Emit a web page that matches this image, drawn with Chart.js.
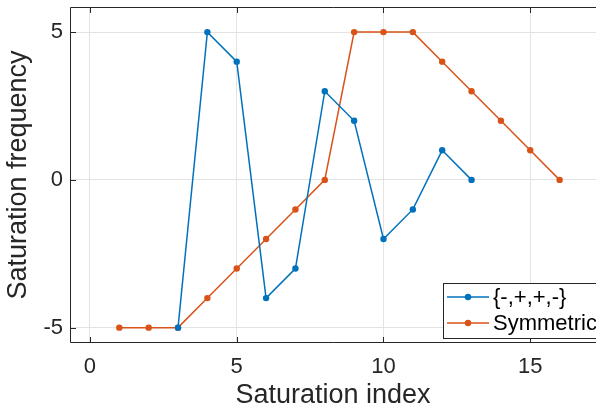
<!DOCTYPE html>
<html>
<head>
<meta charset="utf-8">
<script src="https://cdn.jsdelivr.net/npm/chart.js@4/dist/chart.umd.min.js"></script>
<style>
  body { margin: 0; background: #fff; overflow: hidden; }
</style>
</head>
<body>
<canvas id="myChart" width="596" height="412"></canvas>
<script>
// datos
const xBlue = [3, 4, 5, 6, 7, 8, 9, 10, 11, 12, 13];
const yBlue = [-5, 5, 4, -4, -3, 3, 2, -2, -1, 1, 0];
const xOrange = [1, 2, 3, 4, 5, 6, 7, 8, 9, 10, 11, 12, 13, 14, 15, 16];
const yOrange = [-5, -5, -5, -4, -3, -2, -1, 0, 5, 5, 5, 4, 3, 2, 1, 0];
const seriesNames = ["{-,+,+,-}", "Symmetric"];
const xTicks = [0, 5, 10, 15];
const yTicks = [-5, 0, 5];

const blue = "#0072BD";
const orange = "#D95319";
const axisColor = "#262626";
const fontFam = "'Liberation Sans', Arial, Helvetica, sans-serif";

function toPoints(xs, ys) {
  return xs.map((x, i) => ({ x: x, y: ys[i] }));
}

// caja, ticks hacia adentro y leyenda estilo matlab
const boxPlugin = {
  id: "boxPlugin",
  afterDatasetsDraw(chart) {
    const ctx = chart.ctx;
    const a = chart.chartArea;
    const xs = chart.scales.x;
    const ys = chart.scales.y;
    ctx.save();
    ctx.strokeStyle = axisColor;
    ctx.lineWidth = 1;
    ctx.beginPath();
    ctx.moveTo(a.right + 5, a.top + 0.5);
    ctx.lineTo(a.left + 0.5, a.top + 0.5);
    ctx.lineTo(a.left + 0.5, a.bottom - 0.5);
    ctx.lineTo(a.right + 5, a.bottom - 0.5);
    xTicks.forEach(v => {
      const px = Math.round(xs.getPixelForValue(v)) + 0.5;
      ctx.moveTo(px, a.bottom);
      ctx.lineTo(px, a.bottom - 6);
      ctx.moveTo(px, a.top);
      ctx.lineTo(px, a.top + 6);
    });
    yTicks.forEach(v => {
      const py = Math.round(ys.getPixelForValue(v)) + 0.5;
      ctx.moveTo(a.left, py);
      ctx.lineTo(a.left + 6, py);
    });
    ctx.stroke();

    // leyenda
    const lx = 443, ly = a.bottom - 60, lw = 170, lh = 55;
    ctx.fillStyle = "#fff";
    ctx.fillRect(lx, ly, lw, lh);
    ctx.strokeStyle = axisColor;
    ctx.strokeRect(lx + 0.5, ly + 0.5, lw, lh);
    const cols = [blue, orange];
    ctx.font = "22px " + fontFam;
    ctx.textBaseline = "middle";
    seriesNames.forEach((name, i) => {
      const yy = ly + 14 + i * 26;
      ctx.strokeStyle = cols[i];
      ctx.lineWidth = 1.5;
      ctx.beginPath();
      ctx.moveTo(lx + 4, yy);
      ctx.lineTo(lx + 46, yy);
      ctx.stroke();
      ctx.fillStyle = cols[i];
      ctx.beginPath();
      ctx.arc(lx + 25, yy, 3.2, 0, Math.PI * 2);
      ctx.fill();
      ctx.fillStyle = "#000";
      ctx.fillText(name, lx + 50, yy + 1);
    });
    ctx.restore();
  }
};

new Chart("myChart", {
  type: "line",
  data: {
    datasets: [{
      label: seriesNames[0],
      data: toPoints(xBlue, yBlue),
      borderColor: blue,
      backgroundColor: blue,
      borderWidth: 1.5,
      pointRadius: 3.2,
      pointBorderWidth: 0,
      tension: 0
    }, {
      label: seriesNames[1],
      data: toPoints(xOrange, yOrange),
      borderColor: orange,
      backgroundColor: orange,
      borderWidth: 1.5,
      pointRadius: 3.2,
      pointBorderWidth: 0,
      tension: 0
    }]
  },
  options: {
    responsive: false,
    animation: false,
    layout: { autoPadding: false, padding: { left: 0, top: 7, right: 0, bottom: 0 } },
    plugins: {
      legend: { display: false },
      tooltip: { enabled: false }
    },
    scales: {
      x: {
        type: "linear",
        min: -0.68,
        max: 17.24,
        afterBuildTicks: s => { s.ticks = xTicks.map(v => ({ value: v })); },
        afterFit: s => { s.height = 69; s.paddingLeft = 0; s.paddingRight = 0; },
        grid: { color: "#e3e3e3", drawTicks: false },
        border: { display: false },
        ticks: {
          color: axisColor,
          font: { family: fontFam, size: 22 },
          padding: 11,
          maxRotation: 0
        },
        title: {
          display: true,
          text: "Saturation index",
          color: axisColor,
          font: { family: fontFam, size: 27 },
          padding: { top: 0, bottom: 0 }
        }
      },
      y: {
        min: -5.52,
        max: 5.85,
        afterBuildTicks: s => { s.ticks = yTicks.map(v => ({ value: v })); },
        afterFit: s => { s.width = 70; s.paddingTop = 0; s.paddingBottom = 0; },
        grid: { color: "#e3e3e3", drawTicks: false },
        border: { display: false },
        ticks: {
          color: axisColor,
          font: { family: fontFam, size: 22 },
          padding: 7
        },
        title: {
          display: true,
          text: "Saturation frequency",
          color: axisColor,
          font: { family: fontFam, size: 27 },
          padding: { top: 2, bottom: 0 }
        }
      }
    }
  },
  plugins: [boxPlugin]
});
</script>
</body>
</html>
